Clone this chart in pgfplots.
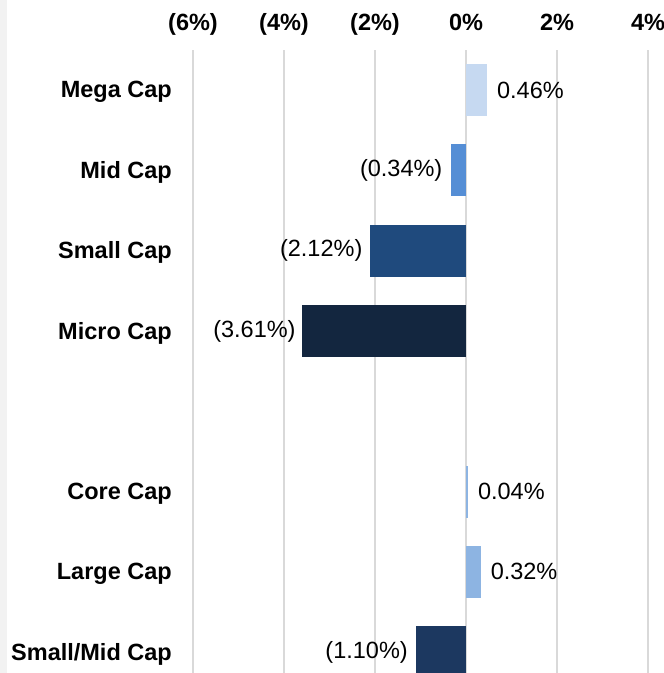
\documentclass[border=0pt]{standalone}
\usepackage{fontspec}
\setmainfont{Liberation Sans}
\usepackage{pgfplots}
\pgfplotsset{compat=1.18}
\definecolor{cMega}{HTML}{C6D9F1}
\definecolor{cMid}{HTML}{558ED5}
\definecolor{cSmall}{HTML}{1F4A7D}
\definecolor{cMicro}{HTML}{13263F}
\definecolor{cCore}{HTML}{8DB4E2}
\definecolor{cLarge}{HTML}{8DB4E2}
\definecolor{cSmallMid}{HTML}{1C3860}
\definecolor{gridgray}{HTML}{D9D9D9}
\definecolor{stripgray}{HTML}{F2F2F2}
\newcommand{\bigf}{\fontsize{23.5}{28}\selectfont}
\begin{document}
\begin{tikzpicture}[x=1pt,y=1pt]
\useasboundingbox (0,0) rectangle (664,673);
\fill[stripgray] (0,0) rectangle (7,673);
\begin{axis}[
  at={(193pt,623pt)}, anchor=north west,
  scale only axis, width=455pt, height=623pt,
  xmin=-6, xmax=4, ymin=-0.5, ymax=7.26, y dir=reverse,
  xbar, bar width=52pt, bar shift=0pt,
  axis line style={draw=none},
  major tick length=0pt,
  xmajorgrids, grid style={draw=gridgray, line width=1.2pt},
  xtick={-6,-4,-2,0,2,4},
  xticklabels={(6\%),(4\%),(2\%),0\%,2\%,4\%},
  xticklabel pos=upper,
  xticklabel style={font=\bigf\bfseries, inner sep=0pt, anchor=base, yshift=20pt},
  ytick={0,1,2,3,5,6,7},
  yticklabels={Mega Cap,Mid Cap,Small Cap,Micro Cap,Core Cap,Large Cap,Small/Mid Cap},
  yticklabel style={font=\bigf\bfseries, inner sep=0pt, anchor=east, xshift=-21pt, yshift=-2pt},
  every node near coord/.append style={font=\bigf, inner sep=0pt, text=black},
]
\addplot[fill=cMega, draw=none, nodes near coords={0.46\%}, nodes near coords style={anchor=west, xshift=10pt}] coordinates {(0.46,0)};
\addplot[fill=cMid, draw=none, nodes near coords={(0.34\%)}, nodes near coords style={anchor=east, xshift=-8pt}] coordinates {(-0.34,1)};
\addplot[fill=cSmall, draw=none, nodes near coords={(2.12\%)}, nodes near coords style={anchor=east, xshift=-7pt}] coordinates {(-2.12,2)};
\addplot[fill=cMicro, draw=none, nodes near coords={(3.61\%)}, nodes near coords style={anchor=east, xshift=-6pt}] coordinates {(-3.61,3)};
\addplot[fill=cCore, draw=none, nodes near coords={0.04\%}, nodes near coords style={anchor=west, xshift=10pt}] coordinates {(0.04,5)};
\addplot[fill=cLarge, draw=none, nodes near coords={0.32\%}, nodes near coords style={anchor=west, xshift=10pt}] coordinates {(0.32,6)};
\addplot[fill=cSmallMid, draw=none, nodes near coords={(1.10\%)}, nodes near coords style={anchor=east, xshift=-8pt}] coordinates {(-1.10,7)};
\end{axis}
\end{tikzpicture}
\end{document}
